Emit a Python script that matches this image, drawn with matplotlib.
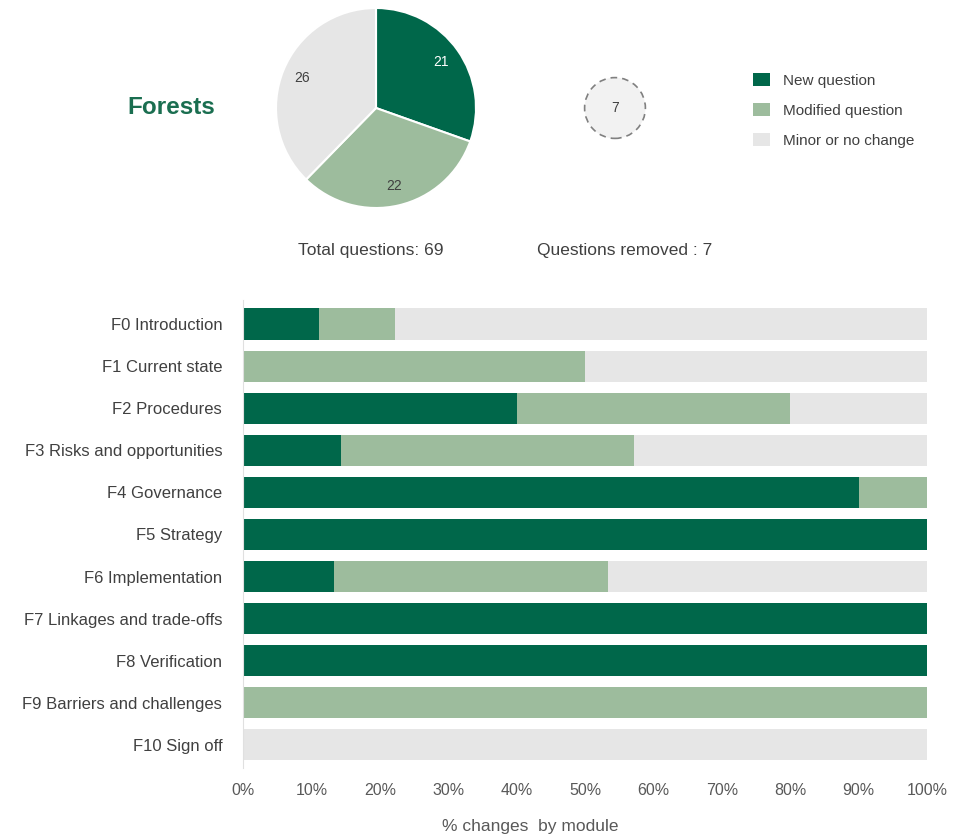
import numpy as np
import matplotlib
matplotlib.use("Agg")
import matplotlib.pyplot as plt
from matplotlib.patches import Patch, Circle
from matplotlib.ticker import PercentFormatter

plt.rcParams["font.family"] = ["Liberation Sans", "DejaVu Sans"]

# Data
categories = ["New question", "Modified question", "Minor or no change"]
pie_counts = [21, 22, 26]
removed = 7
total = 69

modules = ["F0 Introduction", "F1 Current state", "F2 Procedures",
           "F3 Risks and opportunities", "F4 Governance", "F5 Strategy",
           "F6 Implementation", "F7 Linkages and trade-offs", "F8 Verification",
           "F9 Barriers and challenges", "F10 Sign off"]
new_pct = [11.1, 0, 40, 14.3, 90, 100, 13.3, 100, 100, 0, 0]
mod_pct = [11.1, 50, 40, 42.8, 10, 0, 40, 0, 0, 100, 0]
minor_pct = [77.8, 50, 20, 42.9, 0, 0, 46.7, 0, 0, 0, 100]

colors = ["#00674a", "#9dbc9d", "#e6e6e6"]
txt = "#404040"

W, H = 968, 835
fig = plt.figure(figsize=(W / 100, H / 100), dpi=100)

def fax(x0, y0, x1, y1):
    return fig.add_axes([x0 / W, 1 - y1 / H, (x1 - x0) / W, (y1 - y0) / H])

# Pie
ax_pie = fax(276, 8, 476, 208)
wedges, _, autotexts = ax_pie.pie(pie_counts, colors=colors, startangle=90, counterclock=False,
                                  autopct=lambda p: f"{round(p * sum(pie_counts) / 100):d}",
                                  pctdistance=0.8,
                                  wedgeprops=dict(edgecolor="white", linewidth=1.5),
                                  textprops=dict(fontsize=10, color=txt))
autotexts[0].set_color("white")
ax_pie.set_xlim(-1, 1)
ax_pie.set_ylim(-1, 1)

# Removed circle
ax_rem = fax(575, 68, 655, 148)
ax_rem.set_xlim(-1, 1)
ax_rem.set_ylim(-1, 1)
ax_rem.set_aspect("equal")
ax_rem.axis("off")
ax_rem.add_patch(Circle((0, 0), 0.76, facecolor="#f2f2f2", edgecolor="#808080",
                        linestyle=(0, (4, 3)), linewidth=1.2))
ax_rem.text(0, 0, str(removed), ha="center", va="center", fontsize=10, color=txt)

fig.text(171 / W, 1 - 108 / H, "Forests", ha="center", va="center", fontsize=17.5,
         fontweight="bold", color="#1a6e50")
fig.text(371 / W, 1 - 251 / H, f"Total questions: {total}", ha="center", va="center",
         fontsize=12.5, color=txt)
fig.text(625 / W, 1 - 251 / H, f"Questions removed : {removed}", ha="center", va="center",
         fontsize=12.5, color=txt)

handles = [Patch(facecolor=c, edgecolor="none") for c in colors]
fig.legend(handles, categories, loc="upper left", bbox_to_anchor=(739 / W, 1 - 59 / H),
           frameon=False, fontsize=11, handlelength=1.15, handleheight=0.95,
           labelspacing=1.0, handletextpad=0.8, labelcolor=txt)

# Stacked bars
ax = fax(243, 300, 927, 768)
y = np.arange(len(modules))
left = np.zeros(len(modules))
for vals, c in zip([new_pct, mod_pct, minor_pct], colors):
    ax.barh(y, vals, left=left, height=0.74, color=c, edgecolor="none")
    left += np.array(vals)

ax.set_xlim(0, 100)
ax.set_ylim(10.55, -0.57)
ax.set_yticks(y)
ax.set_yticklabels(modules, fontsize=12, color=txt)
ax.set_xticks(np.arange(0, 101, 10))
ax.xaxis.set_major_formatter(PercentFormatter(decimals=0))
ax.tick_params(axis="x", labelsize=11.5, labelcolor="#595959", length=0, pad=11)
ax.tick_params(axis="y", length=0, pad=15)
for s in ["top", "right", "bottom"]:
    ax.spines[s].set_visible(False)
ax.spines["left"].set_color("#e0e0e0")

fig.text(530 / W, 1 - 826 / H, "% changes  by module", ha="center", va="center",
         fontsize=12.5, color="#595959")

fig.savefig("out.png", dpi=100)
